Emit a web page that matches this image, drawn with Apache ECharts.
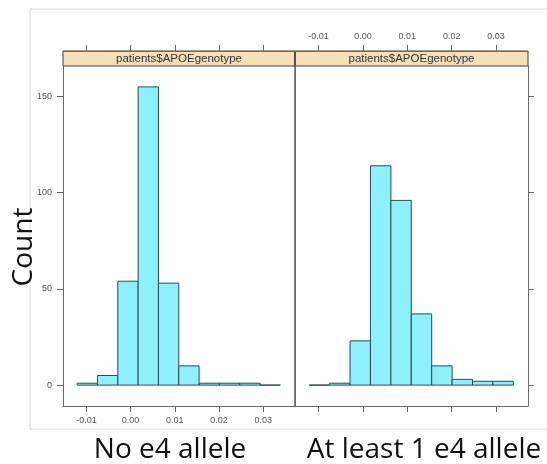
<!DOCTYPE html>
<html>
<head>
<meta charset="utf-8">
<script src="https://cdn.jsdelivr.net/npm/echarts@6/dist/echarts.min.js"></script>
<style>
  html, body { margin: 0; padding: 0; background: #ffffff; }
  #chart { width: 547px; height: 464px; }
</style>
</head>
<body>
<div id="chart"></div>
<script>
// Histogram bin edges shared by both panels
var breaks = [-0.0121, -0.0075, -0.0029, 0.0017, 0.0063, 0.0109, 0.0155, 0.0201, 0.0247, 0.0293, 0.0339];
// Counts per bin
var countsNoE4 = [1, 5, 54, 155, 53, 10, 1, 1, 1, 0];
var countsAtLeastOneE4 = [0, 1, 23, 114, 96, 37, 10, 3, 2, 2];
// Axis ticks
var xTicks = [-0.01, 0.00, 0.01, 0.02, 0.03];
var yTicks = [0, 50, 100, 150];
var panelTitles = ['No e4 allele', 'At least 1 e4 allele'];
var stripLabel = 'patients$APOEgenotype';
var yTitle = 'Count';

var X_MIN = -0.0153, X_MAX = 0.0372;
var Y_MIN = -10.85, Y_MAX = 165.85;

function binData(counts) {
  return counts.map(function (c, i) { return [breaks[i], breaks[i + 1], c]; });
}

var tickFont = { fontFamily: 'Liberation Sans', fontSize: 9, color: '#555555' };
var borderCol = '#6a6a6a';

function xAxisDef(gridIndex, position, showLabels, offset) {
  return {
    type: 'value', gridIndex: gridIndex, position: position, offset: offset || 0,
    min: X_MIN, max: X_MAX,
    axisLine: { show: true, onZero: false, lineStyle: { color: borderCol, width: 1 } },
    axisTick: { show: true, inside: false, length: 6, customValues: xTicks, lineStyle: { color: '#666666' } },
    axisLabel: Object.assign({ show: showLabels, margin: 10, customValues: xTicks,
      formatter: function (v) { return v.toFixed(2); } }, tickFont),
    splitLine: { show: false }
  };
}

function yAxisDef(gridIndex, position, showLabels, showTicks) {
  return {
    type: 'value', gridIndex: gridIndex, position: position,
    min: Y_MIN, max: Y_MAX,
    axisLine: { show: true, onZero: false, lineStyle: { color: borderCol, width: 1 } },
    axisTick: { show: showTicks, inside: false, length: 6, customValues: yTicks, lineStyle: { color: '#666666' } },
    axisLabel: Object.assign({ show: showLabels, margin: 11, customValues: yTicks }, tickFont),
    splitLine: { show: false }
  };
}

function renderBin(params, api) {
  var x0 = api.value(0), x1 = api.value(1), c = api.value(2);
  var p0 = api.coord([x0, c]);
  var p1 = api.coord([x1, 0]);
  return {
    type: 'rect',
    shape: { x: p0[0], y: p0[1], width: p1[0] - p0[0], height: p1[1] - p0[1] },
    style: { fill: '#8ef0fa', stroke: '#2c4a50', lineWidth: 1 }
  };
}

var chart = echarts.init(document.getElementById('chart'), null, { renderer: 'canvas' });

var stripTop = 51, stripH = 15;
var stripFont = '11.5px "Liberation Sans"';
var captionFont = '28px "Open Sans"';
var option = {
  animation: false,
  backgroundColor: '#ffffff',
  grid: [
    { left: 63, right: 252, top: 66, bottom: 58 },
    { left: 295, right: 19, top: 66, bottom: 58 }
  ],
  xAxis: [
    xAxisDef(0, 'bottom', true, 0),
    xAxisDef(0, 'top', false, 15),
    xAxisDef(1, 'bottom', false, 0),
    xAxisDef(1, 'top', true, 15)
  ],
  yAxis: [
    yAxisDef(0, 'left', true, true),
    yAxisDef(0, 'right', false, false),
    yAxisDef(1, 'left', false, false),
    yAxisDef(1, 'right', false, true)
  ],
  series: [
    { type: 'custom', xAxisIndex: 0, yAxisIndex: 0, renderItem: renderBin,
      data: binData(countsNoE4), encode: { x: [0, 1], y: 2 } },
    { type: 'custom', xAxisIndex: 2, yAxisIndex: 2, renderItem: renderBin,
      data: binData(countsAtLeastOneE4), encode: { x: [0, 1], y: 2 } }
  ],
  graphic: [
    // light outer frame
    { type: 'rect', z: -1, shape: { x: 30, y: 9, width: 530, height: 420 },
      style: { fill: 'none', stroke: '#d9d9d9', lineWidth: 1 } },
    // strips
    { type: 'rect', shape: { x: 63, y: stripTop, width: 232, height: stripH },
      style: { fill: '#f7dfb5', stroke: '#4a3d30', lineWidth: 1 } },
    { type: 'rect', shape: { x: 295, y: stripTop, width: 233, height: stripH },
      style: { fill: '#f7dfb5', stroke: '#4a3d30', lineWidth: 1 } },
    { type: 'text', x: 179, y: stripTop + stripH / 2 + 0.5,
      style: { text: stripLabel, fill: '#333333', font: stripFont, align: 'center', verticalAlign: 'middle' } },
    { type: 'text', x: 411.5, y: stripTop + stripH / 2 + 0.5,
      style: { text: stripLabel, fill: '#333333', font: stripFont, align: 'center', verticalAlign: 'middle' } },
    // panel divider
    { type: 'line', shape: { x1: 295, y1: stripTop, x2: 295, y2: 406 },
      style: { stroke: '#333333', lineWidth: 1.2 } },
    // y title
    { type: 'text', x: 24, y: 247, rotation: Math.PI / 2,
      style: { text: yTitle, fill: '#111111', font: captionFont, align: 'center', verticalAlign: 'middle' } },
    // panel captions
    { type: 'text', x: 170, y: 450,
      style: { text: panelTitles[0], fill: '#111111', font: captionFont, align: 'center', verticalAlign: 'middle' } },
    { type: 'text', x: 424, y: 450,
      style: { text: panelTitles[1], fill: '#111111', font: captionFont, align: 'center', verticalAlign: 'middle' } }
  ]
};
chart.setOption(option);
</script>
</body>
</html>
